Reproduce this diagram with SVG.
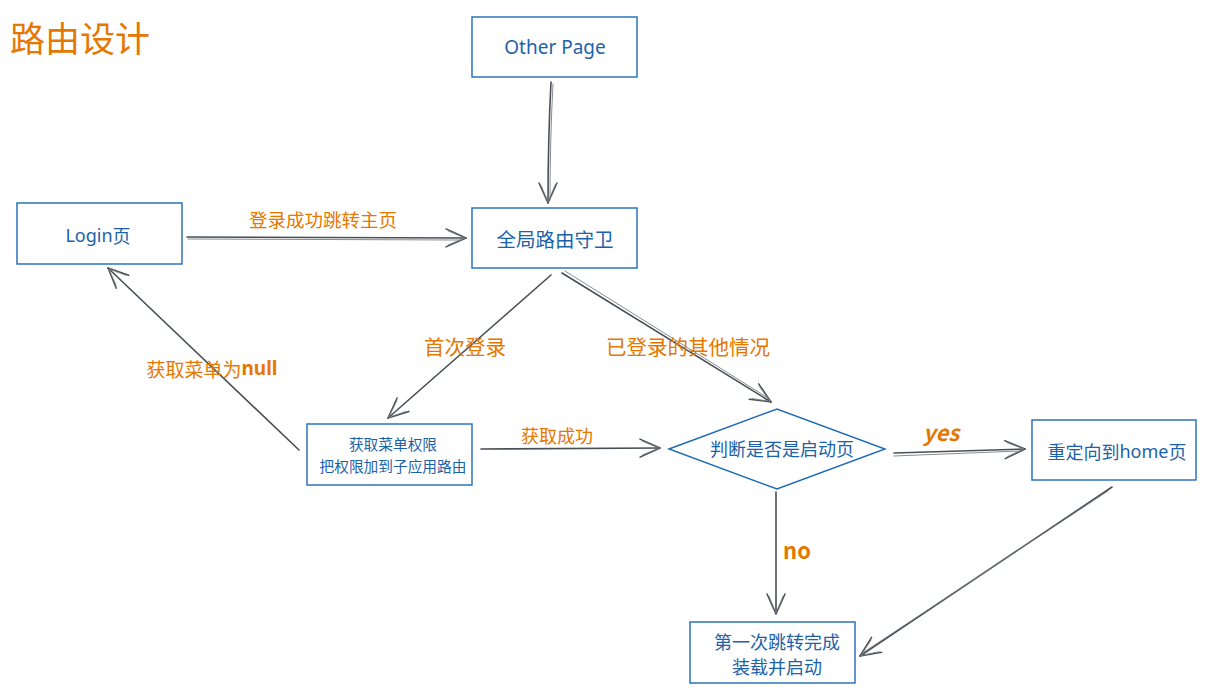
<svg xmlns="http://www.w3.org/2000/svg" width="1206" height="692" viewBox="0 0 1206 692">
  <style>
    .box { fill: #ffffff; stroke: #1c6ab5; stroke-width: 1.4; }
    .node { font-family: "Noto Sans CJK SC", "Noto Sans", sans-serif; fill: #1c62a8; text-anchor: middle; dominant-baseline: central; }
    .latin { font-family: "Noto Sans", "DejaVu Sans", sans-serif; }
    .label { font-family: "Noto Sans CJK SC", "Noto Sans", sans-serif; fill: #e67700; text-anchor: middle; dominant-baseline: central; }
    .edge { fill: none; stroke: #4a4f55; stroke-width: 1.6; stroke-linecap: round; marker-end: url(#arrow); }
    .edge2 { fill: none; stroke: #7a7f85; stroke-width: 0.9; stroke-linecap: round; }
  </style>
  <defs>
    <marker id="arrow" viewBox="0 0 24 24" refX="22" refY="12" markerWidth="24" markerHeight="24" markerUnits="userSpaceOnUse" orient="auto">
      <path d="M2,3 L22,12 L2,21" fill="none" stroke="#4a4f55" stroke-width="1.5" stroke-linecap="round" stroke-linejoin="round"/>
      <path d="M4,5 L21,12 L4,19" fill="none" stroke="#7a7f85" stroke-width="0.8" stroke-linecap="round" stroke-linejoin="round"/>
    </marker>
  </defs>

  <rect width="1206" height="692" fill="#ffffff"/>

  <text x="10" y="36" style="font-family:'Noto Sans CJK SC',sans-serif;font-size:35px" fill="#e67700" dominant-baseline="central">路由设计</text>

  <g id="connectors">
    <path class="edge" d="M551,82 Q548,140 548,203"/>
    <path class="edge2" d="M553,84 Q550,140 550,200"/>
    <path class="edge" d="M187,237 L466,238"/>
    <path class="edge2" d="M188,239 L462,240"/>
    <path class="edge" d="M551,275 L388,418"/>
    <path class="edge" d="M562,273 L771,402"/>
    <path class="edge2" d="M565,271 L768,398"/>
    <path class="edge" d="M299,450 L108,268"/>
    <path class="edge" d="M481,449 L660,448"/>
    <path class="edge" d="M894,453 L1025,449"/>
    <path class="edge2" d="M894,456 L1020,451"/>
    <path class="edge" d="M776,492 L776,614"/>
    <path class="edge" d="M1112,487 L860,656"/>
    <path class="edge2" d="M1108,491 L864,652"/>

    <text class="label" x="323" y="219" style="font-size:18.5px">登录成功跳转主页</text>
    <text class="label" x="465" y="346" style="font-size:20.5px">首次登录</text>
    <text class="label" x="688" y="346" style="font-size:20.5px">已登录的其他情况</text>
    <text class="label" x="212" y="368" style="font-size:19px">获取菜单为<tspan class="latin" font-weight="bold">null</tspan></text>
    <text class="label" x="557" y="435" style="font-size:18px">获取成功</text>
    <text class="label latin" x="941" y="431" style="font-size:22px;font-weight:bold;font-style:italic">yes</text>
    <text class="label latin" x="797" y="549" style="font-size:22px;font-weight:bold">no</text>
  </g>

  <g id="other-page">
    <rect class="box" x="472" y="17" width="165" height="60"/>
    <text class="node latin" x="555" y="47" style="font-size:19px">Other Page</text>
  </g>

  <g id="route-guard">
    <rect class="box" x="472" y="208" width="165" height="60"/>
    <text class="node" x="555" y="238" style="font-size:19.5px">全局路由守卫</text>
  </g>

  <g id="login">
    <rect class="box" x="17" y="203" width="165" height="61"/>
    <text class="node" x="98" y="235" style="font-size:18px"><tspan class="latin">Login</tspan>页</text>
  </g>

  <g id="fetch-menu">
    <rect class="box" x="307" y="424" width="165" height="61"/>
    <text class="node" x="393" y="443" style="font-size:14.7px">获取菜单权限</text>
    <text class="node" x="393" y="465" style="font-size:14.7px">把权限加到子应用路由</text>
  </g>

  <g id="is-start-page">
    <polygon class="box" points="669,449 777,409 885,449 777,489"/>
    <text class="node" x="782" y="448" style="font-size:18px">判断是否是启动页</text>
  </g>

  <g id="redirect-home">
    <rect class="box" x="1032" y="420" width="164" height="60"/>
    <text class="node" x="1117" y="451" style="font-size:18px">重定向到<tspan class="latin">home</tspan>页</text>
  </g>

  <g id="first-jump">
    <rect class="box" x="690" y="622" width="165" height="61"/>
    <text class="node" x="777" y="641" style="font-size:18px">第一次跳转完成</text>
    <text class="node" x="777" y="666" style="font-size:18px">装载并启动</text>
  </g>
</svg>
